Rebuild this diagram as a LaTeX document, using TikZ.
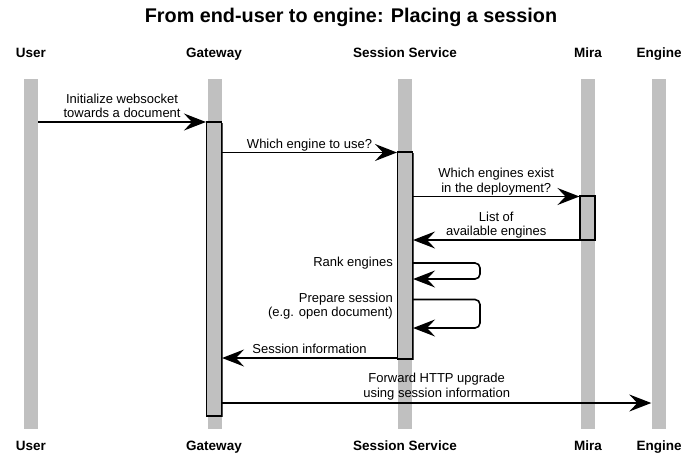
\documentclass[tikz,border=0pt]{standalone}
\usepackage{fontspec}
\setmainfont{Liberation Sans}
\usetikzlibrary{arrows.meta,shadows}
\definecolor{lifegray}{HTML}{C0C0C0}
\newcommand\lblfont{\fontsize{13}{14.3}\selectfont}
\newcommand\hdrfont{\fontsize{13.5}{16}\selectfont\bfseries}
\begin{document}
\begin{tikzpicture}[x=1pt,y=-1pt,
  lifeline/.style={fill=lifegray,draw=none,minimum width=14,minimum height=350,inner sep=0},
  actbox/.style={fill=lifegray,draw=black,line width=1.1,minimum width=15,inner sep=0,
    drop shadow={shadow xshift=1.4pt,shadow yshift=-1.4pt,fill=black!70,opacity=1}},
  msg/.style={line width=1.6,-{Stealth[length=22pt,width=17pt,inset=8pt]}},
  hdr/.style={font=\hdrfont,anchor=base,inner sep=0},
  lbl/.style={font=\lblfont,align=center,inner sep=0,text depth=0pt,anchor=south},
  sidelbl/.style={font=\lblfont,align=right,inner sep=0,text depth=0pt,anchor=south east}]
\useasboundingbox (0,0) rectangle (690,458);
% title
\node[font=\fontsize{19.8}{22}\selectfont\bfseries,anchor=base,inner sep=0] (title) at (351,22.5) {From end-user to engine: Placing a session};
% headers
\node[hdr] (hUser) at (31,57) {User};
\node[hdr] (hGw) at (214,57) {Gateway};
\node[hdr] (hSs) at (405,57) {Session Service};
\node[hdr] (hMira) at (588,57) {Mira};
\node[hdr] (hEng) at (659,57) {Engine};
\node[hdr] (fUser) at (31,450) {User};
\node[hdr] (fGw) at (214,450) {Gateway};
\node[hdr] (fSs) at (405,450) {Session Service};
\node[hdr] (fMira) at (588,450) {Mira};
\node[hdr] (fEng) at (659,450) {Engine};
% lifelines
\node[lifeline] (lUser) at (31,254) {};
\node[lifeline] (lGw) at (214.5,254) {};
\node[lifeline] (lSs) at (405,254) {};
\node[lifeline] (lMira) at (588,254) {};
\node[lifeline] (lEng) at (658.5,254) {};
% activations
\node[actbox,minimum height=294] (aGw) at (214,269) {};
\node[actbox,minimum height=207] (aSs) at (405,255.5) {};
\node[actbox,minimum height=44] (aMira) at (587.5,218) {};
% endpoints
\coordinate (m1s) at (lUser.east |- 0,122);
\coordinate (m1e) at (aGw.west |- 0,122);
\coordinate (m2s) at (aGw.east |- 0,152.5);
\coordinate (m2e) at (aSs.west |- 0,152.5);
\coordinate (m3s) at (aSs.east |- 0,196.5);
\coordinate (m3e) at (aMira.west |- 0,196.5);
\coordinate (m4s) at (aMira.west |- 0,240);
\coordinate (m4e) at (aSs.east |- 0,240);
\coordinate (r1s) at (aSs.east |- 0,263);
\coordinate (r1e) at (aSs.east |- 0,279);
\coordinate (r2s) at (aSs.east |- 0,299.5);
\coordinate (r2e) at (aSs.east |- 0,328);
\coordinate (m7s) at (aSs.west |- 0,358);
\coordinate (m7e) at (aGw.east |- 0,358);
\coordinate (m8s) at (aGw.east |- 0,403);
\coordinate (m8e) at (lEng.west |- 0,403);
% messages
\draw[msg] (m1s) -- (m1e) node[lbl,midway,yshift=3.5pt] (t1) {Initialize websocket\\towards a document};
\draw[msg] (m2s) -- (m2e) node[lbl,midway,yshift=3.5pt] (t2) {Which engine to use?};
\draw[msg] (m3s) -- (m3e) node[lbl,midway,yshift=3.5pt] (t3) {Which engines exist\\in the deployment?};
\draw[msg] (m4s) -- (m4e) node[lbl,midway,yshift=3.5pt] (t4) {List of\\available engines};
\draw[msg,rounded corners=5pt] (r1s) -- (480,263) -- (480,279) -- (r1e);
\node[sidelbl] (t5) at (393,266.5) {Rank engines};
\draw[msg,rounded corners=5pt] (r2s) -- (480,299.5) -- (480,328) -- (r2e);
\node[sidelbl] (t6) at (393,317) {Prepare session\\(e.g. open document)};
\draw[msg] (m7s) -- (m7e) node[lbl,midway,yshift=4pt] (t7) {Session information};
\draw[msg] (m8s) -- (m8e) node[lbl,midway,yshift=5pt] (t8) {Forward HTTP upgrade\\using session information};
\end{tikzpicture}
\end{document}
